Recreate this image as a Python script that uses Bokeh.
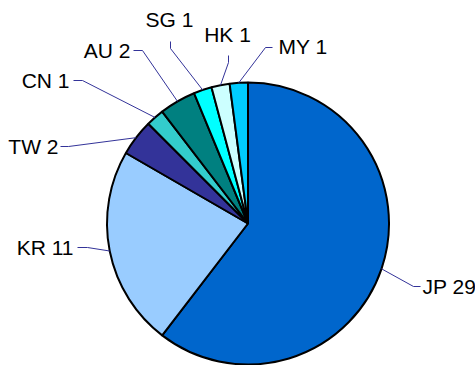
import math
from bokeh.plotting import figure
from bokeh.models import Range1d, ColumnDataSource
from bokeh.core.properties import value
from bokeh.embed import file_html
from bokeh.resources import INLINE

# Data: counts per country, in clockwise order from 12 o'clock
countries = ["JP", "KR", "TW", "CN", "AU", "SG", "HK", "MY"]
counts = [29, 11, 2, 1, 2, 1, 1, 1]
colors = ["#0066CC", "#99CCFF", "#333399", "#33CCCC", "#008080", "#00FFFF", "#CCFFFF", "#00CCFF"]

W, H = 475, 365
CX, CY, R = 247.5, 223.0, 141.0  # pie centre / radius in pixel space (y down)

# Label layout (pixel space, y down): text anchor, alignment, leader start and elbow
label_layout = {
    "JP": dict(tx=422, ty=286, align="left",   line=[(420, 286), (413, 286)]),
    "KR": dict(tx=73,  ty=247, align="right",  line=[(77, 247), (87, 247)]),
    "TW": dict(tx=58,  ty=146, align="right",  line=[(60, 146), (68, 146)]),
    "CN": dict(tx=69,  ty=80,  align="right",  line=[(73, 80), (82, 80)]),
    "AU": dict(tx=130, ty=50,  align="right",  line=[(133, 50), (142, 50)]),
    "SG": dict(tx=169, ty=19,  align="center", line=[(170, 41), (170, 48)]),
    "HK": dict(tx=227, ty=34,  align="center", line=[(228, 55), (228, 62)]),
    "MY": dict(tx=278, ty=46,  align="left",   line=[(272, 47), (265, 47)]),
}


def fy(y):
    """Convert a y-down pixel coordinate to the plot's y-up data space."""
    return H - y


total = sum(counts)
starts, ends, mids = [], [], []
cum = 0
for c in counts:
    a0 = math.pi / 2 - 2 * math.pi * cum / total
    a1 = math.pi / 2 - 2 * math.pi * (cum + c) / total
    # wedges drawn anticlockwise from a1 to a0 => clockwise slice
    starts.append(a1)
    ends.append(a0)
    mids.append((a0 + a1) / 2)
    cum += c

p = figure(width=W, height=H, output_backend="svg", toolbar_location=None,
           x_range=Range1d(0, W), y_range=Range1d(0, H),
           min_border=0, outline_line_color=None, background_fill_color="white",
           border_fill_color="white")
p.axis.visible = False
p.grid.visible = False

src = ColumnDataSource(dict(x=[CX] * len(counts), y=[fy(CY)] * len(counts),
                            start=starts, end=ends, color=colors))
p.wedge(x="x", y="y", radius=R, start_angle="start", end_angle="end",
        direction="anticlock", fill_color="color", line_color="black",
        line_width=2, source=src)

# Leader lines: from label, through elbow, to the slice's outer edge at its mid-angle
xs, ys = [], []
for name, mid in zip(countries, mids):
    lay = label_layout[name]
    ex = CX + R * math.cos(mid)
    ey = fy(CY) + R * math.sin(mid)
    pts = lay["line"]
    xs.append([pts[0][0], pts[1][0], ex])
    ys.append([fy(pts[0][1]), fy(pts[1][1]), ey])
p.multi_line(xs=xs, ys=ys, line_color="#333399", line_width=1)

# Labels
for name, c in zip(countries, counts):
    lay = label_layout[name]
    p.text(x=[lay["tx"]], y=[fy(lay["ty"])], text=[f"{name} {c}"],
           text_align=lay["align"], text_baseline="middle",
           text_font=value("Liberation Sans"), text_font_size="21px",
           text_color="black")

open("out.html", "w").write(file_html(p, INLINE))
